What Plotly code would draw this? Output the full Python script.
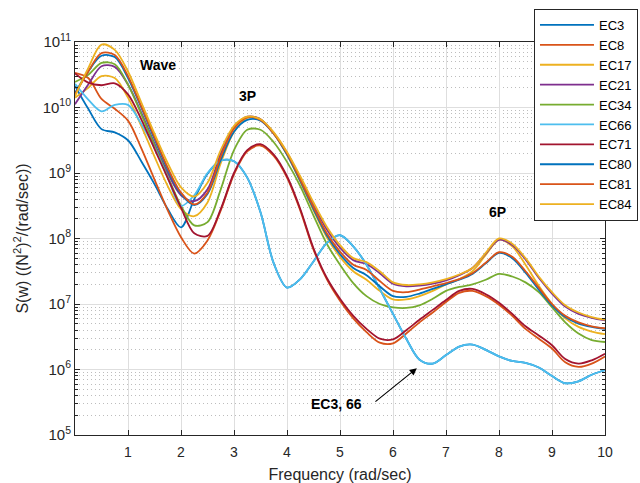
import plotly.graph_objects as go

# Frequency grid (rad/sec)
freq = [0, 0.25, 0.5, 0.75, 1, 1.25, 1.5, 1.75, 2, 2.25, 2.5, 2.75, 3, 3.25, 3.5, 3.75,
        4, 4.25, 4.5, 4.75, 5, 5.25, 5.5, 5.75, 6, 6.25, 6.5, 6.75, 7, 7.25, 7.5, 7.75,
        8, 8.25, 8.5, 8.75, 9, 9.25, 9.5, 9.75, 10]

# log10 of S(w)
ec3_log = [10.33, 9.98, 9.67, 9.62, 9.5, 9.18, 8.83, 8.45, 8.17, 8.6, 8.99, 9.19, 9.18, 8.93, 8.4, 7.62,
           7.25, 7.38, 7.65, 7.93, 8.05, 7.88, 7.6, 7.23, 6.85, 6.47, 6.15, 6.09, 6.22, 6.35, 6.38, 6.3,
           6.2, 6.13, 6.1, 6.03, 5.9, 5.79, 5.82, 5.92, 5.99]
ec8_log = [10.53, 10.45, 10.13, 9.98, 9.8, 9.38, 8.9, 8.43, 8.02, 7.77, 7.97, 8.43, 8.98, 9.33, 9.42, 9.26,
           8.93, 8.43, 7.83, 7.38, 7.05, 6.78, 6.57, 6.41, 6.4, 6.55, 6.72, 6.87, 7.03, 7.17, 7.2, 7.12,
           6.99, 6.82, 6.62, 6.47, 6.32, 6.11, 6.04, 6.09, 6.2]
ec17_log = [10.15, 10.3, 10.48, 10.45, 10.15, 9.72, 9.25, 8.8, 8.45, 8.34, 8.55, 9.15, 9.63, 9.84, 9.82, 9.6,
            9.28, 8.87, 8.43, 8.02, 7.72, 7.5, 7.37, 7.2, 7.07, 7.07, 7.12, 7.2, 7.3, 7.38, 7.5, 7.75,
            7.98, 7.88, 7.6, 7.28, 7.0, 6.78, 6.65, 6.58, 6.54]
ec21_log = [10.05, 10.35, 10.63, 10.62, 10.35, 9.92, 9.45, 9.0, 8.66, 8.57, 8.75, 9.3, 9.7, 9.86, 9.82, 9.61,
            9.31, 8.93, 8.52, 8.14, 7.86, 7.67, 7.61, 7.47, 7.31, 7.27, 7.28, 7.31, 7.36, 7.44, 7.55, 7.77,
            7.98, 7.9, 7.68, 7.4, 7.16, 6.96, 6.85, 6.79, 6.75]
ec34_log = [10.39, 10.5, 10.68, 10.66, 10.35, 9.9, 9.42, 8.95, 8.5, 8.2, 8.25, 8.75, 9.35, 9.66, 9.66, 9.47,
            9.17, 8.8, 8.35, 7.92, 7.6, 7.32, 7.12, 7.0, 6.95, 6.94, 6.98, 7.08, 7.2, 7.26, 7.3, 7.37,
            7.46, 7.42, 7.33, 7.18, 6.95, 6.72, 6.55, 6.45, 6.42]
ec66_log = [10.36, 10.12, 9.94, 10.04, 10.04, 9.75, 9.38, 8.93, 8.5, 8.66, 9.0, 9.19, 9.18, 8.93, 8.4, 7.62,
            7.25, 7.38, 7.65, 7.93, 8.05, 7.88, 7.6, 7.23, 6.85, 6.47, 6.15, 6.09, 6.22, 6.35, 6.38, 6.3,
            6.2, 6.13, 6.1, 6.03, 5.9, 5.79, 5.82, 5.92, 5.99]
ec71_log = [10.52, 10.38, 10.34, 10.37, 10.2, 9.82, 9.37, 8.92, 8.47, 8.08, 8.04, 8.45, 9.0, 9.35, 9.44, 9.28,
            8.95, 8.45, 7.85, 7.4, 7.08, 6.82, 6.62, 6.47, 6.46, 6.6, 6.76, 6.91, 7.06, 7.2, 7.23, 7.15,
            7.02, 6.85, 6.66, 6.52, 6.37, 6.16, 6.09, 6.14, 6.24]
ec80_log = [10.22, 10.55, 10.79, 10.77, 10.45, 10.0, 9.52, 9.05, 8.68, 8.51, 8.68, 9.2, 9.63, 9.81, 9.8, 9.6,
            9.28, 8.88, 8.45, 8.05, 7.76, 7.55, 7.44, 7.27, 7.12, 7.11, 7.16, 7.23, 7.3, 7.37, 7.46, 7.62,
            7.78, 7.7, 7.48, 7.22, 6.98, 6.8, 6.7, 6.65, 6.62]
ec81_log = [10.2, 10.55, 10.83, 10.8, 10.48, 10.02, 9.55, 9.08, 8.7, 8.52, 8.7, 9.25, 9.68, 9.85, 9.81, 9.6,
            9.3, 8.9, 8.48, 8.08, 7.8, 7.6, 7.52, 7.35, 7.2, 7.18, 7.22, 7.27, 7.32, 7.38, 7.47, 7.63,
            7.79, 7.72, 7.5, 7.25, 7.0, 6.82, 6.72, 6.66, 6.63]
ec84_log = [10.17, 10.6, 10.96, 10.88, 10.55, 10.08, 9.6, 9.15, 8.78, 8.64, 8.85, 9.35, 9.72, 9.86, 9.82, 9.62,
            9.32, 8.95, 8.55, 8.18, 7.9, 7.7, 7.64, 7.5, 7.33, 7.29, 7.3, 7.33, 7.38, 7.45, 7.55, 7.78,
            8.0, 7.92, 7.7, 7.42, 7.18, 6.98, 6.87, 6.8, 6.76]

names = ["EC3", "EC8", "EC17", "EC21", "EC34", "EC66", "EC71", "EC80", "EC81", "EC84"]
series = [ec3_log, ec8_log, ec17_log, ec21_log, ec34_log, ec66_log, ec71_log, ec80_log, ec81_log, ec84_log]
colors = ["#0072BD", "#D95319", "#EDB120", "#7E2F8E", "#77AC30", "#4DBEEE", "#A2142F",
          "#0072BD", "#D95319", "#EDB120"]

ytick_exp = [5, 6, 7, 8, 9, 10, 11]
xtick_vals = [1, 2, 3, 4, 5, 6, 7, 8, 9, 10]

FONT = "Liberation Sans, Arial, Helvetica, sans-serif"
AX = "#262626"

fig = go.Figure()
for name, vals, col in zip(names, series, colors):
    fig.add_trace(go.Scatter(
        x=freq, y=[10 ** v for v in vals], name=name, mode="lines",
        line=dict(color=col, width=1.8, shape="spline", smoothing=0.9),
    ))

minor_vals = [m * 10 ** e for e in range(5, 11) for m in range(2, 10)]

fig.update_layout(
    width=640, height=483,
    margin=dict(l=75, r=35, t=42, b=48, autoexpand=False),
    paper_bgcolor="white", plot_bgcolor="white",
    font=dict(family=FONT, color=AX, size=14),
    showlegend=True,
    legend=dict(
        x=0.866, y=1.084, xanchor="left", yanchor="top",
        bgcolor="white", bordercolor=AX, borderwidth=1,
        font=dict(size=13, color="#000000", family=FONT),
        tracegroupgap=0, itemwidth=54,
    ),
    xaxis=dict(
        range=[0, 10], tickvals=xtick_vals, ticktext=[str(v) for v in xtick_vals],
        showgrid=True, gridcolor="#dedede", gridwidth=1,
        showline=True, linecolor=AX, linewidth=1, mirror="ticks",
        ticks="inside", ticklen=5, tickcolor=AX, zeroline=False,
        tickfont=dict(size=14, color=AX), ticklabelstandoff=4,
        title=dict(text="Frequency (rad/sec)", font=dict(size=16, color=AX), standoff=12),
    ),
    yaxis=dict(
        type="log", range=[5, 11],
        tickvals=[10 ** e for e in ytick_exp],
        ticktext=["10<sup>%d</sup>" % e for e in ytick_exp],
        showgrid=True, gridcolor="#dedede", gridwidth=1,
        showline=True, linecolor=AX, linewidth=1, mirror="ticks",
        ticks="inside", ticklen=5, tickcolor=AX, zeroline=False,
        tickfont=dict(size=15, color=AX),
        minor=dict(tickvals=minor_vals, showgrid=True, gridcolor="#bdbdbd", griddash="1px,3px",
                   gridwidth=1, ticks="inside", ticklen=3, tickcolor=AX),
        title=dict(text="S(w) ((N<sup>2</sup>)<sup>2</sup>/(rad/sec))", font=dict(size=16, color=AX),
                   standoff=10),
    ),
)

ann_font = dict(family=FONT, size=14, color="#000000")
fig.add_annotation(x=1.57, y=10.65, xref="x", yref="y", text="<b>Wave</b>", showarrow=False, font=ann_font)
fig.add_annotation(x=3.26, y=10.18, xref="x", yref="y", text="<b>3P</b>", showarrow=False, font=ann_font)
fig.add_annotation(x=7.98, y=8.4, xref="x", yref="y", text="<b>6P</b>", showarrow=False, font=ann_font)
fig.add_annotation(x=4.93, y=5.47, xref="x", yref="y", text="<b>EC3, 66</b>", showarrow=False, font=ann_font)
fig.add_annotation(x=6.45, y=6.02, ax=5.64, ay=5.49, xref="x", yref="y", axref="x", ayref="y",
                   text="", showarrow=True, arrowhead=2, arrowsize=1.3, arrowwidth=1.1,
                   arrowcolor="#000000")

fig.write_html("out.html")
